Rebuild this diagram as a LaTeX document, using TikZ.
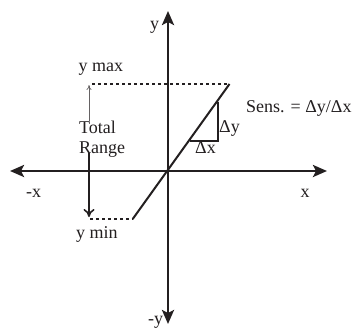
\documentclass[tikz,border=0pt]{standalone}
\usepackage{fontspec}
\setmainfont{Liberation Serif}
\usetikzlibrary{arrows.meta}
\definecolor{ink}{HTML}{231F20}
\begin{document}
\begin{tikzpicture}[x=1pt,y=-1pt,
  lbl/.style={inner sep=0pt,anchor=base west,font=\fontsize{18}{20}\selectfont,text=ink},
  axis/.style={line width=2.6pt,draw=ink,{Stealth[length=14pt,width=12pt,inset=3pt]}-{Stealth[length=14pt,width=12pt,inset=3pt]}},
  dotline/.style={line width=2.6pt,draw=ink,dash pattern=on 3pt off 3pt},
  curve/.style={line width=2pt,draw=ink},
  tri/.style={line width=2pt,draw=ink},
  thinarrow/.style={line width=0.7pt,draw=ink!70,-{To[length=5pt,width=5pt]}},
  thickarrow/.style={line width=2.6pt,draw=ink,-{To[length=8pt,width=11pt,line width=1.6pt]}}
]
\useasboundingbox (0,0) rectangle (352,329);
\fill[white] (0,0) rectangle (352,329);
% axis ends
\coordinate (xl) at (10,171);
\coordinate (xr) at (327,171);
\coordinate (yt) at (168,11);
\coordinate (yb) at (168,324);
\coordinate (o) at (168,171);
\draw[axis] (xl) -- (xr);
\draw[axis] (yb) -- (yt);
% characteristic
\coordinate (lo) at (132.7,219);
\coordinate (hi) at (229.5,84);
\draw[curve] (lo) -- (hi);
% dotted limits
\coordinate (ymaxl) at (92,84);
\coordinate (yminl) at (90,219);
\draw[dotline] (ymaxl) -- (hi);
\draw[dotline] (yminl) -- (lo);
% range arrows
\coordinate (ta) at (89,121);
\coordinate (tb) at (89,85);
\draw[thinarrow] (ta) -- (tb);
\coordinate (ra) at (89,153);
\coordinate (rb) at (89,217);
\draw[thickarrow] (ra) -- (rb);
% slope triangle
\coordinate (t1) at (218,101.5);
\coordinate (t2) at (218,141);
\coordinate (t3) at (189.5,141);
\draw[tri] (t1) -- (t2) -- (t3);
% labels
\node[lbl] (ly) at (150,30) {y};
\node[lbl] (lymax) at (78.5,71) {y max};
\node[lbl] (ltotal) at (79,133) {Total};
\node[lbl] (lrange) at (79,153) {Range};
\node[lbl] (lsens) at (246,112.5) {Sens. = Δy/Δx};
\node[lbl] (ldy) at (219,132) {Δy};
\node[lbl] (ldx) at (195,153) {Δx};
\node[lbl] (lmx) at (26,197) {-x};
\node[lbl] (lx) at (300.5,197) {x};
\node[lbl] (lymin) at (76,238) {y min};
\node[lbl] (lmy) at (148,324) {-y};
\end{tikzpicture}
\end{document}
